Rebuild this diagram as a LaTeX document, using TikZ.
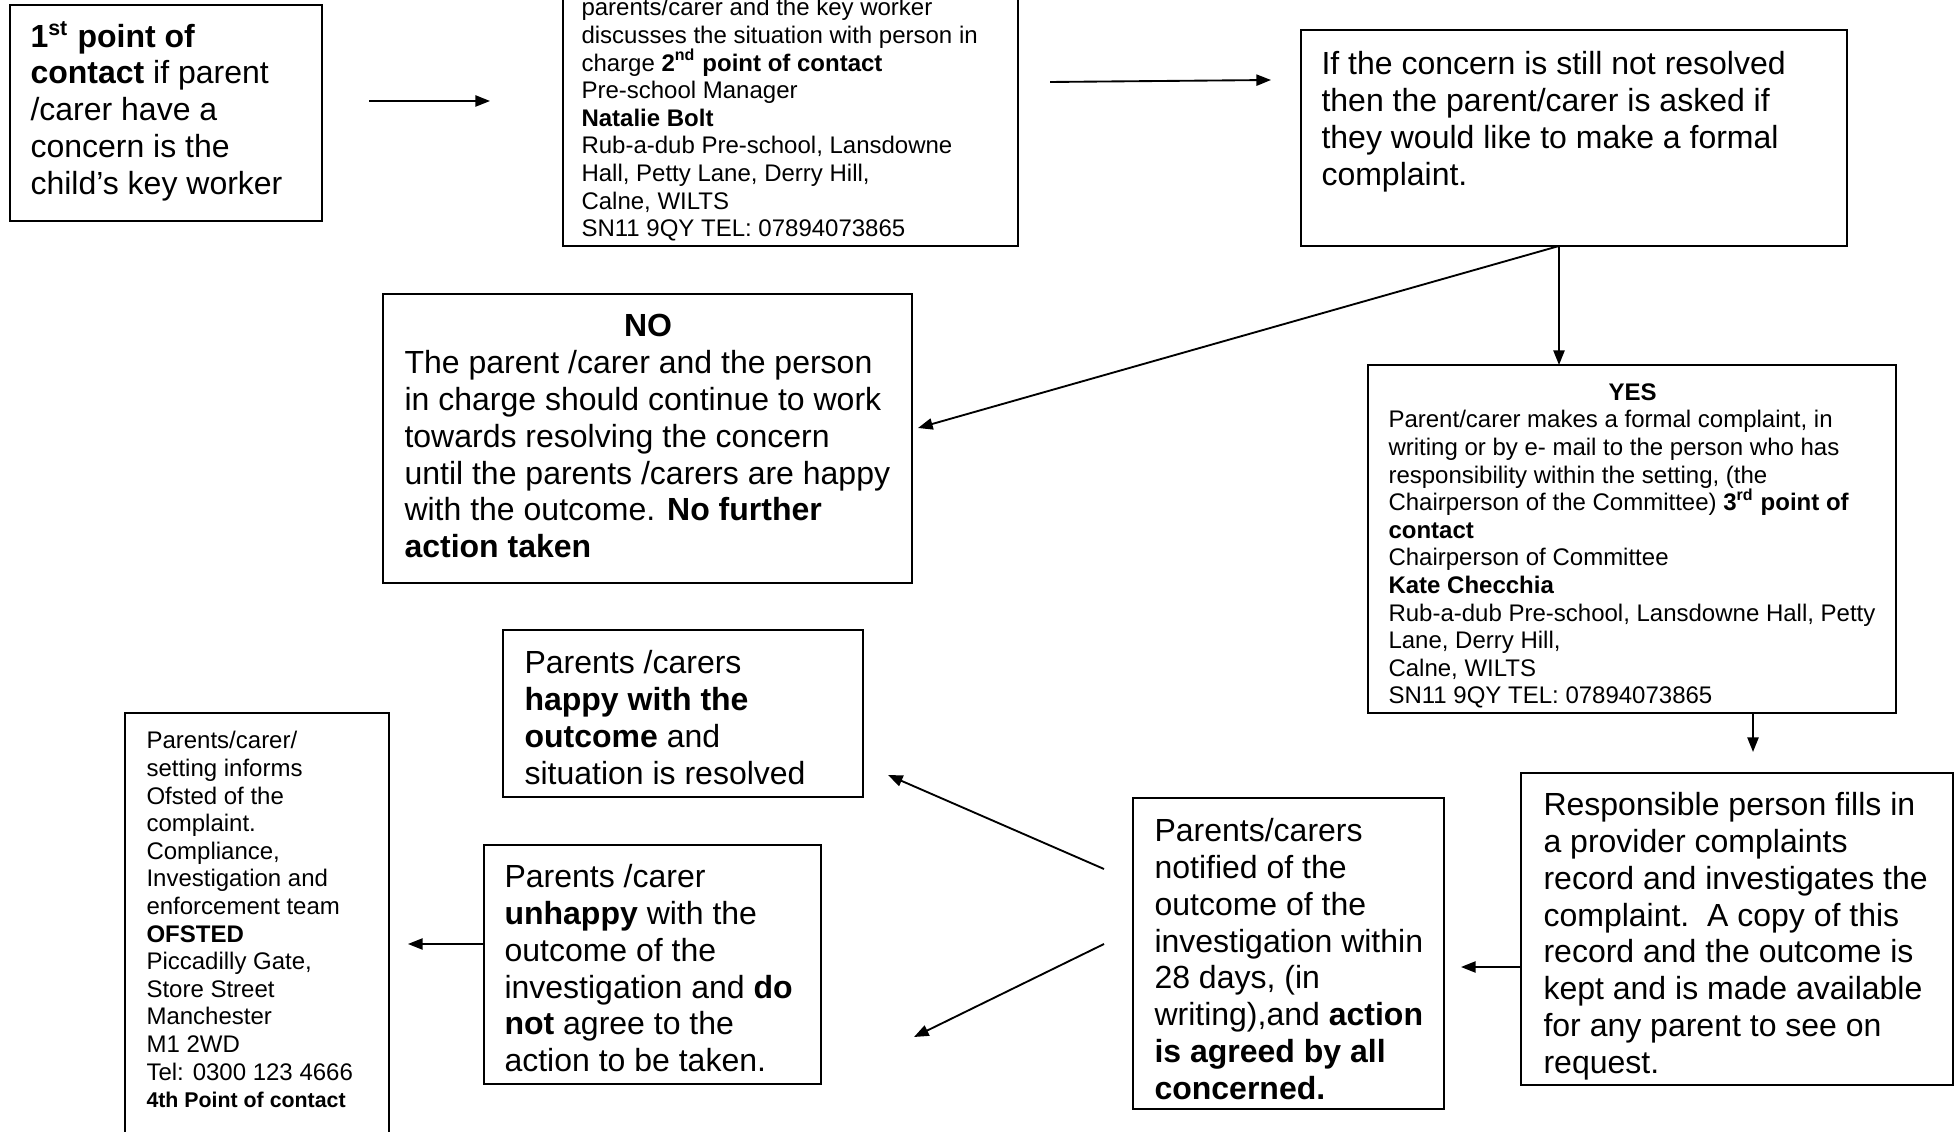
\documentclass[tikz,border=0pt]{standalone}
\usepackage{fontspec}
\setmainfont{Liberation Sans}
\usetikzlibrary{arrows.meta,fit,calc}
\tikzset{
  box/.style={draw, line width=0.75pt, inner sep=0pt, outer sep=0pt},
  big/.style={anchor=north west, inner sep=0pt, align=left, font={\fontsize{12}{13.8}\selectfont}},
  small/.style={anchor=north west, inner sep=0pt, align=left, font={\fontsize{9}{10.35}\selectfont}},
  arr/.style={line width=0.7pt, -{Triangle[length=5.5pt,width=4.2pt]}}
}
\begin{document}
\begin{tikzpicture}[x=0.375pt, y=-0.375pt]
\useasboundingbox (0,0) rectangle (1956,1132);
% boxes
\node[box, fit={(10,5)(322,221)}] (A) {};
\node[box, fit={(563,-60)(1018,246)}] (B) {};
\node[box, fit={(1301,30)(1847,246)}] (C) {};
\node[box, fit={(383,294)(912,583)}] (NO) {};
\node[box, fit={(1368,365)(1896,713)}] (YES) {};
\node[box, fit={(1521,773)(1953,1085)}] (RESP) {};
\node[box, fit={(1133,798)(1444,1109)}] (NOT) {};
\node[box, fit={(503,630)(863,797)}] (HAP) {};
\node[box, fit={(484,845)(821,1084)}] (UNH) {};
\node[box, fit={(125,713)(389,1160)}] (OFS) {};
% texts
\node[big] (tA) at (30,21) {\textbf{1\textsuperscript{st} point of}\\
\textbf{contact} if parent\\
/carer have a\\
concern is the\\
child’s key worker};
\node[small] (tB) at (581,-2) {parents/carer and the key worker\\
discusses the situation with person in\\
charge \textbf{2\textsuperscript{nd} point of contact}\\
Pre-school Manager\\
\textbf{Natalie Bolt}\\
Rub-a-dub Pre-school, Lansdowne\\
Hall, Petty Lane, Derry Hill,\\
Calne, WILTS\\
SN11 9QY TEL: 07894073865};
\node[big] (tC) at (1321,51) {If the concern is still not resolved\\
then the parent/carer is asked if\\
they would like to make a formal\\
complaint.};
\node[big] (tNO) at (404,314) {\makebox[182.6pt]{\textbf{NO}}\\
The parent /carer and the person\\
in charge should continue to work\\
towards resolving the concern\\
until the parents /carers are happy\\
with the outcome. \textbf{No further}\\
\textbf{action taken}};
\node[small] (tYES) at (1388,383) {\makebox[183pt]{\textbf{YES}}\\
Parent/carer makes a formal complaint, in\\
writing or by e- mail to the person who has\\
responsibility within the setting, (the\\
Chairperson of the Committee) \textbf{3\textsuperscript{rd} point of}\\
\textbf{contact}\\
Chairperson of Committee\\
\textbf{Kate Checchia}\\
Rub-a-dub Pre-school, Lansdowne Hall, Petty\\
Lane, Derry Hill,\\
Calne, WILTS\\
SN11 9QY TEL: 07894073865};
\node[big] (tRESP) at (1543,792) {Responsible person fills in\\
a provider complaints\\
record and investigates the\\
complaint.\ \ A copy of this\\
record and the outcome is\\
kept and is made available\\
for any parent to see on\\
request.};
\node[big] (tNOT) at (1154,818) {Parents/carers\\
notified of the\\
outcome of the\\
investigation within\\
28 days, (in\\
writing),and \textbf{action}\\
\textbf{is agreed by all}\\
\textbf{concerned.}};
\node[big] (tHAP) at (524,650) {Parents /carers\\
\textbf{happy with the}\\
\textbf{outcome} and\\
situation is resolved};
\node[big] (tUNH) at (504,864) {Parents /carer\\
\textbf{unhappy} with the\\
outcome of the\\
investigation and \textbf{do}\\
\textbf{not} agree to the\\
action to be taken.};
\node[small] (tOFS) at (146,731) {Parents/carer/\\
setting informs\\
Ofsted of the\\
complaint.\\
Compliance,\\
Investigation and\\
enforcement team\\
\textbf{OFSTED}\\
Piccadilly Gate,\\
Store Street\\
Manchester\\
M1 2WD\\
Tel: 0300 123 4666\\
{\fontsize{8}{9.2}\selectfont\textbf{4th Point of contact}}};
% connectors
\draw[arr] ($(A.north east)+(47,96)$) -- ($(B.west |- A.north east)+(-73,96)$);
\draw[arr] ($(B.south east)+(32,-164)$) -- ($(C.north west)+(-30,50)$);
\draw[arr] ($(C.south west)+(258,0)$) -- ($(YES.north west)+(191,0)$);
\draw[arr] ($(C.south west)+(258,0)$) -- ($(NO.north east)+(6,134)$);
\draw[arr] ($(YES.south west)+(385,0)$) -- ($(RESP.north west)+(232,-21)$);
\draw[arr] ($(RESP.north west)+(0,194)$) -- ($(NOT.east |- RESP.north west)+(17,194)$);
\draw[arr] ($(NOT.north west)+(-29,71)$) -- ($(HAP.south east)+(25,-22)$);
\draw[arr] ($(NOT.north west)+(-29,146)$) -- ($(UNH.south east)+(93,-47)$);
\draw[arr] ($(UNH.north west)+(0,99)$) -- ($(OFS.east |- UNH.north west)+(19,99)$);
\end{tikzpicture}
\end{document}
